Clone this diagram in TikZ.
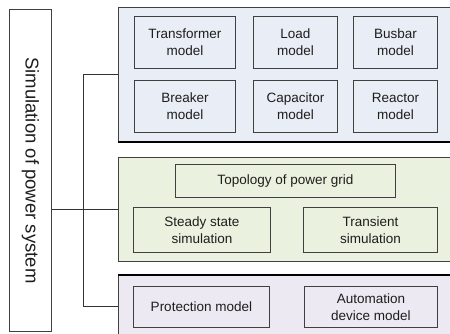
\documentclass[tikz,border=0pt]{standalone}
\usepackage{fontspec}
\setmainfont{Liberation Sans}
\definecolor{pblue}{RGB}{233,237,245}
\definecolor{pgreen}{RGB}{235,241,223}
\definecolor{ppurple}{RGB}{236,233,242}
\definecolor{edge}{RGB}{64,64,64}
\definecolor{shade}{RGB}{150,150,150}
\definecolor{txt}{RGB}{30,30,30}
\begin{document}
\begin{tikzpicture}[x=1pt,y=-1pt,
  panel/.style={anchor=north west, inner sep=0pt},
  inbox/.style={draw=edge, line width=0.8pt, anchor=north west, inner sep=0pt, align=center,
     text=txt, font=\fontsize{13.5}{17}\selectfont},
  conn/.style={draw=black!80, line width=0.8pt}]
\useasboundingbox (0,0) rectangle (450,334);
% title
\node[draw=edge, line width=0.8pt, fill=white, minimum width=42pt, minimum height=322pt, anchor=north west, inner sep=0pt] (title) at (9,9) {};
\node[rotate=-90, text=txt, font=\fontsize{18.5}{20}\selectfont] (titletxt) at (title.center) {Simulation of power system};
% panels
\node[panel, fill=pblue, minimum width=336pt, minimum height=135pt] (p1) at (118,7) {};
\draw[edge, line width=0.8pt] (p1.south west) -- (p1.north west) -- (p1.north east);
\draw[shade, line width=2.2pt] (p1.south west) -- (p1.south east);
\node[panel, fill=pgreen, minimum width=336pt, minimum height=104pt] (p2) at (118,157) {};
\draw[edge, line width=0.8pt] (p2.south east) -- (p2.south west) -- (p2.north west) -- (p2.north east);
\node[panel, fill=ppurple, minimum width=336pt, minimum height=62pt] (p3) at (118,275) {};
\draw[edge, line width=0.8pt] (p3.south west) -- (p3.north west);
\draw[shade, line width=2pt] (p3.north west) -- (p3.north east);
% panel 1 boxes
\node[inbox, minimum width=101pt, minimum height=52pt] (tr) at (134,16) {Transformer\\model};
\node[inbox, minimum width=84pt, minimum height=52pt] (ld) at (253,16) {Load\\model};
\node[inbox, minimum width=84pt, minimum height=52pt] (bb) at (353,16) {Busbar\\model};
\node[inbox, minimum width=101pt, minimum height=52pt] (br) at (134,80) {Breaker\\model};
\node[inbox, minimum width=84pt, minimum height=52pt] (cp) at (253,80) {Capacitor\\model};
\node[inbox, minimum width=84pt, minimum height=52pt] (rc) at (353,80) {Reactor\\model};
% panel 2 boxes
\node[inbox, minimum width=220pt, minimum height=33pt] (topo) at (175,164) {Topology of power grid};
\node[inbox, minimum width=137pt, minimum height=45pt] (ss) at (133,207) {Steady state\\simulation};
\node[inbox, minimum width=134pt, minimum height=45pt] (ts) at (303,207) {Transient\\simulation};
% panel 3 boxes
\node[inbox, minimum width=136pt, minimum height=41pt] (pm) at (133,286) {Protection model};
\node[inbox, minimum width=133pt, minimum height=41pt] (am) at (304,286) {Automation\\device model};
% connectors
\coordinate (jx) at (83,0);
\draw[conn] (p2.west) -- (p2.west -| title.east);
\draw[conn] (p1.west) -- (p1.west -| jx) -- (p3.west -| jx) -- (p3.west);
\end{tikzpicture}
\end{document}
